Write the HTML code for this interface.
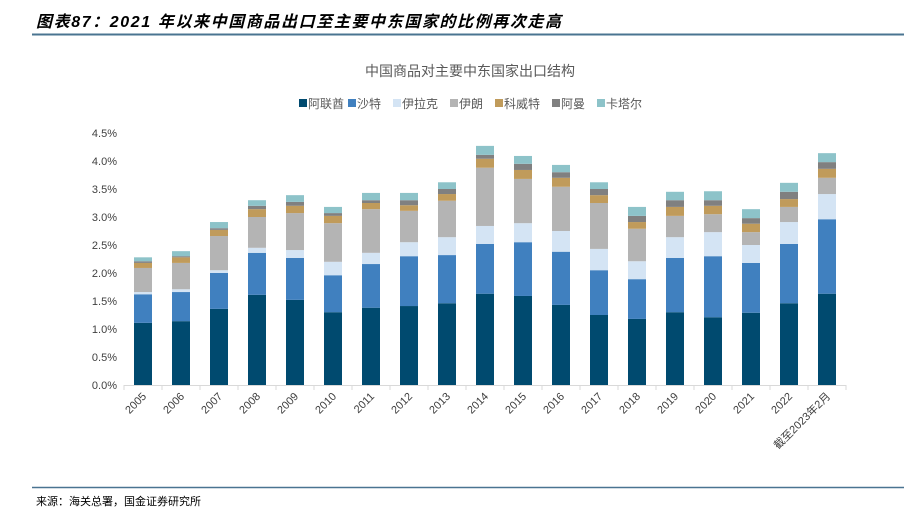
<!DOCTYPE html>
<html><head><meta charset="utf-8"><style>
body{margin:0;background:#fff;width:904px;height:514px;overflow:hidden;font-family:"Liberation Sans","Noto Sans CJK SC",sans-serif;}
</style></head><body>
<svg width="904" height="514" xmlns="http://www.w3.org/2000/svg" id="chart">
<text x="36" y="27" font-size="16" font-weight="bold" font-style="italic" letter-spacing="1.6" fill="#000" font-family="Liberation Sans, Noto Sans CJK SC, sans-serif">图表87：2021 年以来中国商品出口至主要中东国家的比例再次走高</text>
<line x1="32" y1="34.5" x2="904" y2="34.5" stroke="#4a7491" stroke-width="2"/>
<text x="470" y="76" font-size="14" fill="#595959" text-anchor="middle">中国商品对主要中东国家出口结构</text>
<g id="legend"></g>
<g id="plot"></g>
<line x1="32" y1="487.5" x2="904" y2="487.5" stroke="#4a7491" stroke-width="1.5"/>
<text x="36" y="505" font-size="11" fill="#000">来源：海关总署，国金证券研究所</text>
</svg>
<script>
const categories=["2005","2006","2007","2008","2009","2010","2011","2012","2013","2014","2015","2016","2017","2018","2019","2020","2021","2022","截至2023年2月"];
const seriesNames=["阿联酋","沙特","伊拉克","伊朗","科威特","阿曼","卡塔尔"];
const uae=[1.11,1.14,1.36,1.61,1.52,1.30,1.38,1.41,1.46,1.63,1.59,1.43,1.25,1.18,1.30,1.21,1.29,1.46,1.63];
const saudi=[0.51,0.52,0.64,0.75,0.75,0.66,0.78,0.89,0.86,0.89,0.96,0.95,0.80,0.71,0.97,1.09,0.89,1.06,1.33];
const iraq=[0.04,0.05,0.05,0.09,0.14,0.24,0.20,0.25,0.32,0.32,0.34,0.37,0.38,0.32,0.37,0.43,0.32,0.39,0.45];
const iran=[0.43,0.47,0.61,0.55,0.66,0.69,0.78,0.56,0.65,1.04,0.79,0.79,0.82,0.58,0.38,0.32,0.23,0.27,0.29];
const kuwait=[0.09,0.10,0.11,0.14,0.13,0.13,0.11,0.10,0.12,0.16,0.16,0.16,0.14,0.12,0.16,0.15,0.15,0.14,0.16];
const oman=[0.03,0.02,0.03,0.06,0.07,0.05,0.05,0.09,0.09,0.07,0.11,0.10,0.11,0.11,0.12,0.10,0.10,0.13,0.12];
const qatar=[0.07,0.09,0.11,0.10,0.12,0.11,0.13,0.13,0.12,0.16,0.14,0.13,0.12,0.16,0.15,0.16,0.16,0.16,0.16];
const yTicks=[0,0.5,1,1.5,2,2.5,3,3.5,4,4.5];
const yTickLabels=["0.0%","0.5%","1.0%","1.5%","2.0%","2.5%","3.0%","3.5%","4.0%","4.5%"];

const NS="http://www.w3.org/2000/svg";
const colors=["#004a6f","#4080bf","#d4e4f4","#b4b4b4","#c09b5b","#808080","#8dc3c9"];
const series=[uae,saudi,iraq,iran,kuwait,oman,qatar];
const x0=124,band=38,y0=385,pxPer=56;
const xPos=i=>x0+band*i+band/2;
const yPos=v=>y0-v*pxPer;
function mk(tag,attrs,parent){const e=document.createElementNS(NS,tag);for(const k in attrs)e.setAttribute(k,attrs[k]);parent.appendChild(e);return e;}
const plot=document.getElementById('plot');
yTicks.forEach((t,i)=>{
  const tx=mk('text',{x:117,y:yPos(t)+4,'font-size':11,fill:'#404040','text-anchor':'end'},plot);
  tx.textContent=yTickLabels[i];
  
  
});
const ax=mk('line',{x1:x0,y1:y0+0.5,x2:x0+band*categories.length,y2:y0+0.5,stroke:'#d9d9d9'},plot);


for(let i=0;i<=categories.length;i++){
  const tk=mk('line',{x1:x0+band*i,y1:y0,x2:x0+band*i,y2:y0+5,stroke:'#d9d9d9'},plot);
  
  
}
categories.forEach((c,i)=>{
  let cum=0;
  series.forEach((s,k)=>{
    const v=s[i];
    const r=mk('rect',{x:xPos(i)-9,y:yPos(cum+v),width:18,height:v*pxPer,fill:colors[k]},plot);
    
    
    cum+=v;
  });
  const cx=xPos(i)+4,cy=y0+12;
  const lb=mk('text',{x:cx,y:cy,'font-size':11,fill:'#404040','text-anchor':'end',transform:`rotate(-45 ${cx} ${cy})`},plot);
  lb.textContent=c;
  
  
});
const legend=document.getElementById('legend');
const lw=[49,45,57,45,57,45,57];
let lx=299;
seriesNames.forEach((n,k)=>{
  const g=mk('g',{},legend);
  
  
  mk('rect',{x:lx,y:99,width:8,height:8,fill:colors[k]},g);
  const t=mk('text',{x:lx+9,y:108,'font-size':12,fill:'#595959'},g);
  t.textContent=n;
  lx+=lw[k];
});
</script>
</body></html>
